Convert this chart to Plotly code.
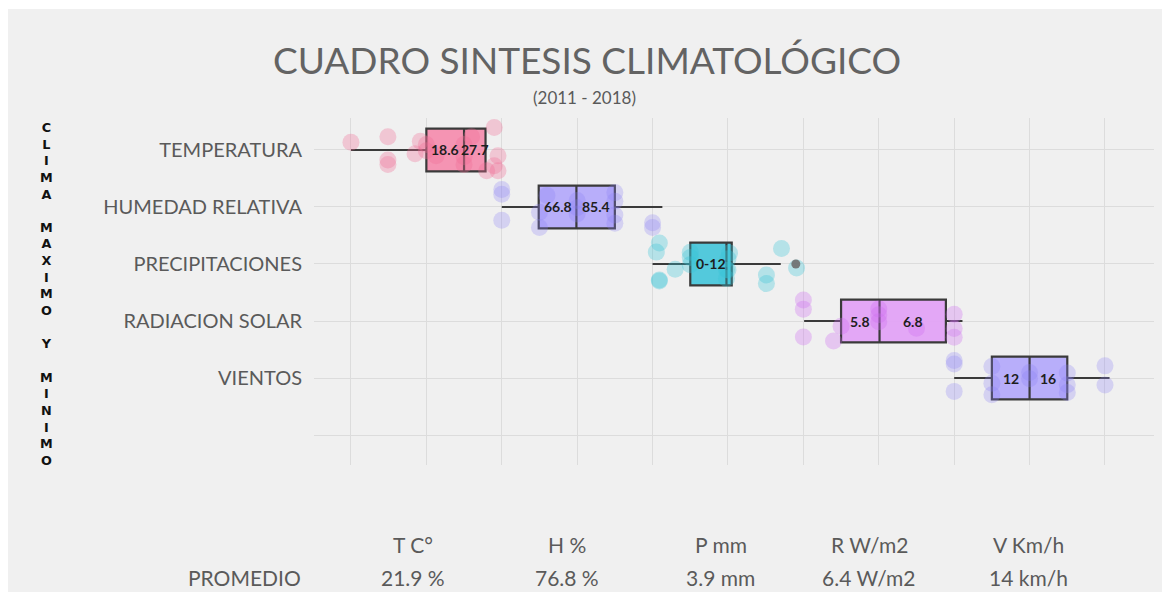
import plotly.graph_objects as go

# ---------------- data ----------------
categories = ["TEMPERATURA", "HUMEDAD RELATIVA", "PRECIPITACIONES", "RADIACION SOLAR", "VIENTOS"]
rows = [5, 4, 3, 2, 1]

q1_vals = [1.00, 2.49, 4.50, 6.50, 8.50]
median_vals = [1.50, 2.99, 4.98, 7.01, 9.00]
q3_vals = [1.785, 3.50, 5.05, 7.89, 9.50]
lower_vals = [0.00, 2.00, 4.00, 6.01, 8.00]
upper_vals = [1.785, 4.13, 5.70, 8.11, 10.06]

box_labels = [["18.6", "27.7"], ["66.8", "85.4"], ["0-12"], ["5.8", "6.8"], ["12", "16"]]

pts_temp = [0.0, 0.49, 0.49, 0.49, 0.85, 0.92, 1.0, 1.0, 1.13, 1.5, 1.5, 1.5, 1.6, 1.8, 1.9, 1.9, 1.95, 1.95]
pts_hum = [2.0, 2.0, 2.0, 2.5, 2.5, 2.6, 3.0, 3.0, 3.0, 3.5, 3.5, 3.5, 3.5, 4.0, 4.0]
pts_prec = [4.05, 4.09, 4.09, 4.09, 4.3, 4.5, 4.5, 4.5, 4.98, 4.98, 5.0, 5.0, 5.02, 5.51, 5.51, 5.71, 5.91]
pts_rad = [6.0, 6.0, 6.0, 6.4, 6.5, 7.0, 7.0, 7.0, 7.5, 8.0, 8.0, 8.0]
pts_vien = [8.0, 8.0, 8.0, 8.5, 8.5, 8.5, 9.0, 9.0, 9.5, 9.5, 9.5, 10.0, 10.0]
points = [pts_temp, pts_hum, pts_prec, pts_rad, pts_vien]

outlier_prec = [5.90]

units = ["T C°", "H %", "P mm", "R W/m2", "V Km/h"]
averages = ["21.9 %", "76.8 %", "3.9 mm", "6.4 W/m2", "14 km/h"]

# ---------------- style ----------------
box_fill = ["rgba(246,132,168,0.85)", "rgba(180,170,250,0.95)", "rgba(74,198,218,0.95)",
            "rgba(226,162,246,0.95)", "rgba(180,170,250,0.95)"]
pt_color = ["rgba(240,110,150,0.32)", "rgba(140,128,245,0.28)", "rgba(55,195,215,0.32)",
            "rgba(205,110,240,0.32)", "rgba(140,128,245,0.28)"]
line_col = "#3a3a3a"
txt_col = "#5a5a5a"
FONT = "Lato"

fig = go.Figure()

for i, cat in enumerate(categories):
    fig.add_trace(go.Box(
        orientation="h", y=[rows[i]], q1=[q1_vals[i]], median=[median_vals[i]], q3=[q3_vals[i]],
        lowerfence=[lower_vals[i]], upperfence=[upper_vals[i]],
        width=0.75, whiskerwidth=0, fillcolor=box_fill[i],
        line=dict(color=line_col, width=2.2), name=cat, showlegend=False, boxpoints=False,
    ))
    fig.add_trace(go.Box(
        orientation="h", x=points[i], y=[rows[i]] * len(points[i]),
        width=0.95, boxpoints="all", jitter=1.0, pointpos=0,
        fillcolor="rgba(0,0,0,0)", line=dict(width=0, color="rgba(0,0,0,0)"), whiskerwidth=0,
        marker=dict(size=17, color=pt_color[i], line=dict(width=0)),
        name=cat, showlegend=False,
    ))

fig.add_trace(go.Scatter(
    x=outlier_prec, y=[rows[2]] * len(outlier_prec), mode="markers",
    marker=dict(size=9, color="rgba(110,110,110,0.9)"), showlegend=False,
))

# labels inside boxes
for i, labs in enumerate(box_labels):
    if len(labs) == 2:
        xs = [(q1_vals[i] + median_vals[i]) / 2, (median_vals[i] + q3_vals[i]) / 2]
    else:
        xs = [(q1_vals[i] + q3_vals[i]) / 2]
    for xv, t in zip(xs, labs):
        fig.add_annotation(x=xv, y=rows[i], text="<b>" + t + "</b>", showarrow=False,
                           xanchor="center", yanchor="middle",
                           font=dict(family=FONT, size=14, color="#1e1e1e"))

# bottom table
col_x = [0.118, 0.301, 0.4845, 0.661, 0.851]
for cx, u, a in zip(col_x, units, averages):
    fig.add_annotation(xref="paper", yref="paper", x=cx, y=-0.2305, text=u, showarrow=False,
                       xanchor="center", yanchor="middle",
                       font=dict(family=FONT, size=21, color=txt_col))
    fig.add_annotation(xref="paper", yref="paper", x=cx, y=-0.3256, text=a, showarrow=False,
                       xanchor="center", yanchor="middle",
                       font=dict(family=FONT, size=21, color=txt_col))
fig.add_annotation(xref="paper", yref="paper", x=-0.0131, y=-0.3256, text="PROMEDIO",
                   xanchor="right", yanchor="middle", showarrow=False,
                   font=dict(family=FONT, size=21, color=txt_col))

# subtitle
fig.add_annotation(xref="paper", yref="paper", x=0.3226, y=1.0605, text="(2011 - 2018)",
                   xanchor="center", yanchor="middle",
                   showarrow=False, font=dict(family=FONT, size=17, color=txt_col))

# vertical side text
side = "CLIMA MAXIMO Y MINIMO"
side_txt = "<br>".join("<b>" + ch + "</b>" if ch != " " else " " for ch in side)
fig.add_annotation(xref="paper", yref="paper", x=-0.318, y=0.494, text=side_txt, showarrow=False,
                   xanchor="center", yanchor="middle",
                   font=dict(family="DejaVu Sans", size=12.8, color="#111111"))

# panel background
fig.add_shape(type="rect", xref="paper", yref="paper", x0=-0.3655, x1=1.0107, y0=-0.366, y1=1.314,
              fillcolor="#f0f0f0", line=dict(width=0), layer="below")

fig.update_layout(
    width=1162, height=593, autosize=False,
    margin=dict(l=306, r=16, t=110, b=136),
    paper_bgcolor="white", plot_bgcolor="rgba(0,0,0,0)",
    boxmode="overlay",
    title=dict(text="CUADRO SINTESIS CLIMATOLÓGICO", x=0.4983, xanchor="center", xref="container",
               y=1 - 53 / 593, yanchor="middle", yref="container",
               font=dict(family=FONT, size=37, color="#636363")),
    xaxis=dict(range=[-0.49, 10.65], tickvals=list(range(0, 11)), showticklabels=False,
               showgrid=True, gridcolor="#dcdcdc", gridwidth=1, zeroline=False, showline=False),
    yaxis=dict(range=[-0.526, 5.561], tickvals=rows + [0], ticktext=categories + [""],
               showgrid=True, gridcolor="#dcdcdc", gridwidth=1, zeroline=False, showline=False,
               ticklabelstandoff=11,
               tickfont=dict(family=FONT, size=20, color=txt_col)),
    font=dict(family=FONT),
)

fig.write_html("out.html")
